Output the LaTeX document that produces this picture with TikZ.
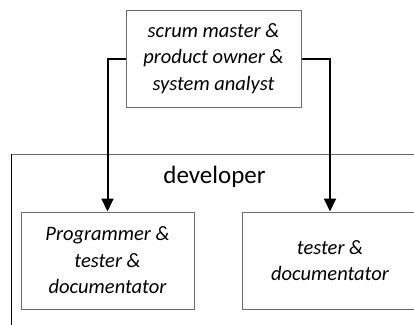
\documentclass[tikz,border=0pt]{standalone}
\usepackage{fontspec}
\setmainfont{Carlito}
\usetikzlibrary{arrows.meta}
\tikzset{
  rolebox/.style={draw=gray!85!black, line width=1pt, fill=white,
    minimum height=97pt, inner sep=0pt, align=center,
    font=\fontsize{20.5}{26.5}\selectfont\itshape},
  flow/.style={line width=2pt, black,
    -{Triangle[width=12pt,length=13pt]}},
}
\begin{document}
\begin{tikzpicture}[x=1pt,y=-1pt]
  \useasboundingbox (0,0) rectangle (414,324);
  \begin{scope}
    \clip (0,0) rectangle (414,324);
    % developer group frame (open to the right and bottom)
    \draw[gray!85!black, line width=1pt] (11,154) -- (430,154);
    \draw[black, line width=1pt] (11,154) -- (11,340);
    \node[font=\fontsize{25}{29}\selectfont] (dev) at (214.5,177) {developer};
    % role boxes
    \node[rolebox, minimum width=175pt] (lead) at (213.5,58.5)
      {scrum master \&\\product owner \&\\system analyst};
    \node[rolebox, minimum width=173pt] (prog) at (107.5,260.5)
      {Programmer \&\\tester \&\\documentator};
    \node[rolebox, minimum width=176pt] (test) at (330,260.5)
      {tester \&\\documentator};
    % assignments
    \draw[flow] (lead.west) -| (prog.north);
    \draw[flow] (lead.east) -| (test.north);
  \end{scope}
\end{tikzpicture}
\end{document}
